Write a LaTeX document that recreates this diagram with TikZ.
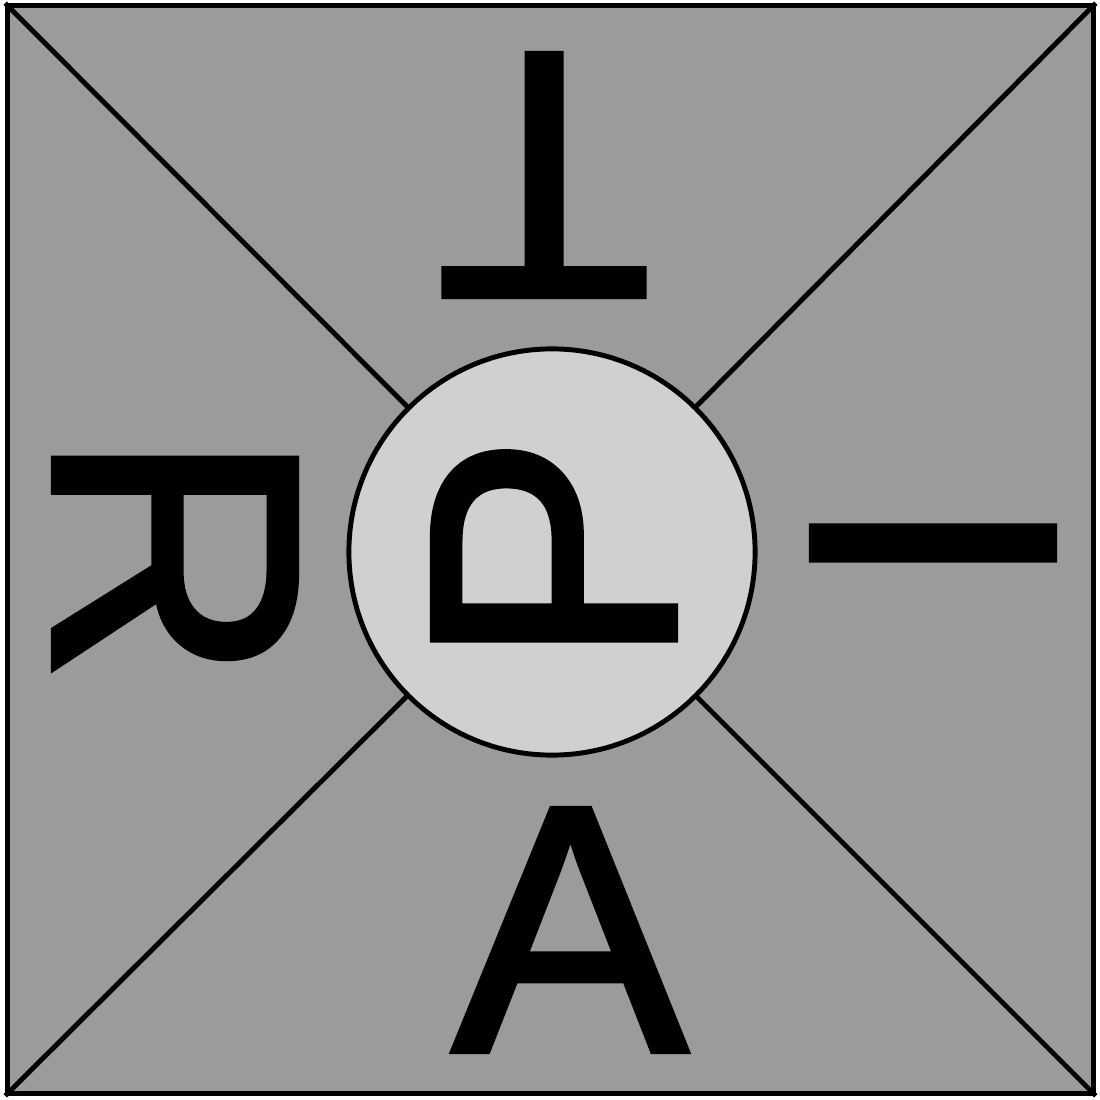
\documentclass[tikz,border=0pt]{standalone}
\usepackage{fontspec}
\setmainfont{Liberation Sans}[FakeBold=1.8]
\newfontfamily\letterfont{Liberation Sans}[FakeBold=1.8]
\definecolor{bggray}{RGB}{155,155,155}
\definecolor{circgray}{RGB}{208,208,208}
\tikzset{
  frame/.style={draw=black, line width=1.4pt, fill=bggray},
  diag/.style={draw=black, line width=1.4pt},
  hub/.style={circle, draw=black, line width=1.4pt, fill=circgray, minimum size=4.06cm, inner sep=0pt},
  letter/.style={inner sep=0pt, font=\letterfont\fontsize{100pt}{102pt}\selectfont, text=black}
}
\begin{document}
\begin{tikzpicture}[x=0.01cm,y=0.01cm]
\useasboundingbox (0,0) rectangle (1100,1099);
\node[frame, minimum width=10.85cm, minimum height=10.87cm, inner sep=0pt] (sq) at (550.5,549.5) {};
\node[hub] (c) at (552,547) {};
\draw[diag] (sq.north west) -- (c);
\draw[diag] (sq.north east) -- (c);
\draw[diag] (sq.south west) -- (c);
\draw[diag] (sq.south east) -- (c);
\node[letter, rotate=90] (p) at (554,548) {P};
\node[letter, rotate=180] (t) at (544,924) {T};
\node[letter, rotate=90] (i) at (933,556) {I};
\node[letter] (a) at (570,169) {A};
\node[letter, rotate=-90] (r) at (175,542) {R};
\end{tikzpicture}
\end{document}
